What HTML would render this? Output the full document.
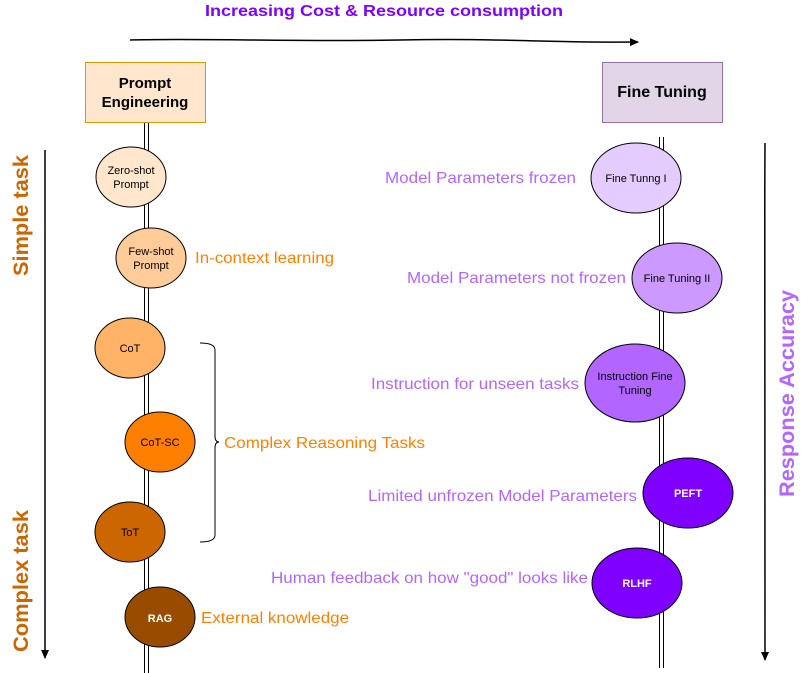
<!DOCTYPE html>
<html><head><meta charset="utf-8"><style>
html,body{margin:0;padding:0;background:#fff;width:806px;height:673px;overflow:hidden}
svg{display:block;font-family:"Liberation Sans",Arial,sans-serif}
</style></head><body>
<svg width="806" height="673" viewBox="0 0 806 673" xmlns="http://www.w3.org/2000/svg">
<defs>
<marker id="ah" markerWidth="10" markerHeight="10" refX="8" refY="5" orient="auto" markerUnits="userSpaceOnUse">
<path d="M0,1 L9,5 L0,9 Z" fill="#000"/></marker>
</defs>
<text x="205" y="16" textLength="358" lengthAdjust="spacingAndGlyphs" font-size="16" font-weight="bold" fill="#7F00FF">Increasing Cost &amp; Resource consumption</text>
<path d="M130,40 C200,38 300,42 400,40 S550,43 638,42" stroke="#000" stroke-width="1.5" fill="none" marker-end="url(#ah)"/>
<line x1="144.5" y1="122" x2="144.5" y2="673" stroke="#000" stroke-width="1"/>
<line x1="148.5" y1="122" x2="148.5" y2="673" stroke="#000" stroke-width="1"/>
<line x1="659.5" y1="137" x2="659.5" y2="668" stroke="#000" stroke-width="1"/>
<line x1="663.5" y1="137" x2="663.5" y2="668" stroke="#000" stroke-width="1"/>
<rect x="85.5" y="62.5" width="120" height="60" fill="#FFE6CC" stroke="#D79B00"/>
<text x="145" y="88" text-anchor="middle" font-size="15" font-weight="bold">Prompt</text>
<text x="145" y="107" text-anchor="middle" font-size="15" font-weight="bold">Engineering</text>
<rect x="602.5" y="62.5" width="120" height="60" fill="#E1D5E7" stroke="#9673A6"/>
<text x="662" y="97" text-anchor="middle" font-size="16" font-weight="bold">Fine Tuning</text>
<path d="M45,150 C44,300 46,450 45,658" stroke="#000" stroke-width="1.5" fill="none" marker-end="url(#ah)"/>
<path d="M765,143 C764,300 766,450 765,660" stroke="#000" stroke-width="1.5" fill="none" marker-end="url(#ah)"/>
<text transform="translate(28,276) rotate(-90)" textLength="121" lengthAdjust="spacingAndGlyphs" font-size="21" font-weight="bold" fill="#CC6600">Simple task</text>
<text transform="translate(28,652) rotate(-90)" textLength="142" lengthAdjust="spacingAndGlyphs" font-size="21" font-weight="bold" fill="#CC6600">Complex task</text>
<text transform="translate(794,497) rotate(-90)" textLength="207" lengthAdjust="spacingAndGlyphs" font-size="21" font-weight="bold" fill="#B266FF">Response Accuracy</text>
<g stroke="#000" stroke-width="1">
<ellipse cx="131" cy="177" rx="35" ry="30" fill="#FFE6CC"/>
<ellipse cx="151" cy="258" rx="35" ry="30" fill="#FFCC99"/>
<ellipse cx="130" cy="348" rx="35" ry="30" fill="#FFB366"/>
<ellipse cx="160" cy="442" rx="35" ry="30" fill="#FF8000"/>
<ellipse cx="130" cy="532" rx="35" ry="30" fill="#CC6600"/>
<ellipse cx="160" cy="617" rx="35" ry="30" fill="#994C00"/>
<ellipse cx="636" cy="178" rx="45" ry="35" fill="#E5CCFF"/>
<ellipse cx="677" cy="278" rx="45" ry="35" fill="#CC99FF"/>
<ellipse cx="635" cy="383" rx="50" ry="39" fill="#B266FF"/>
<ellipse cx="688" cy="493" rx="45" ry="35" fill="#7F00FF"/>
<ellipse cx="637" cy="583" rx="45" ry="35" fill="#7F00FF"/>
</g>
<g font-size="11" text-anchor="middle" fill="#000">
<text x="131" y="174">Zero-shot</text><text x="131" y="188">Prompt</text>
<text x="151" y="255">Few-shot</text><text x="151" y="269">Prompt</text>
<text x="130" y="352">CoT</text>
<text x="160" y="446">CoT-SC</text>
<text x="130" y="536">ToT</text>
<text x="160" y="622" fill="#fff" font-weight="bold">RAG</text>
<text x="636" y="182">Fine Tunng I</text>
<text x="677" y="282">Fine Tuning II</text>
<text x="635" y="380">Instruction Fine</text><text x="635" y="394">Tuning</text>
<text x="688" y="497" fill="#fff" font-weight="bold">PEFT</text>
<text x="637" y="587" fill="#fff" font-weight="bold">RLHF</text>
</g>
<path d="M200,343 Q215,343 215,350 L215,436 Q215,442 219,442 Q215,442 215,448 L215,535 Q215,542 200,542" stroke="#000" stroke-width="1" fill="none"/>
<g font-size="16" fill="#FF8000" lengthAdjust="spacingAndGlyphs">
<text x="195" y="263" textLength="139" lengthAdjust="spacingAndGlyphs">In-context learning</text>
<text x="224" y="448" textLength="201" lengthAdjust="spacingAndGlyphs">Complex Reasoning Tasks</text>
<text x="201" y="623" textLength="148" lengthAdjust="spacingAndGlyphs">External knowledge</text>
</g>
<g font-size="16" fill="#B266FF">
<text x="385" y="183" textLength="191" lengthAdjust="spacingAndGlyphs">Model Parameters frozen</text>
<text x="407" y="283" textLength="219" lengthAdjust="spacingAndGlyphs">Model Parameters not frozen</text>
<text x="371" y="389" textLength="208" lengthAdjust="spacingAndGlyphs">Instruction for unseen tasks</text>
<text x="368" y="501" textLength="269" lengthAdjust="spacingAndGlyphs">Limited unfrozen Model Parameters</text>
<text x="271" y="583" textLength="317" lengthAdjust="spacingAndGlyphs">Human feedback on how "good" looks like</text>
</g>
</svg>
</body></html>
